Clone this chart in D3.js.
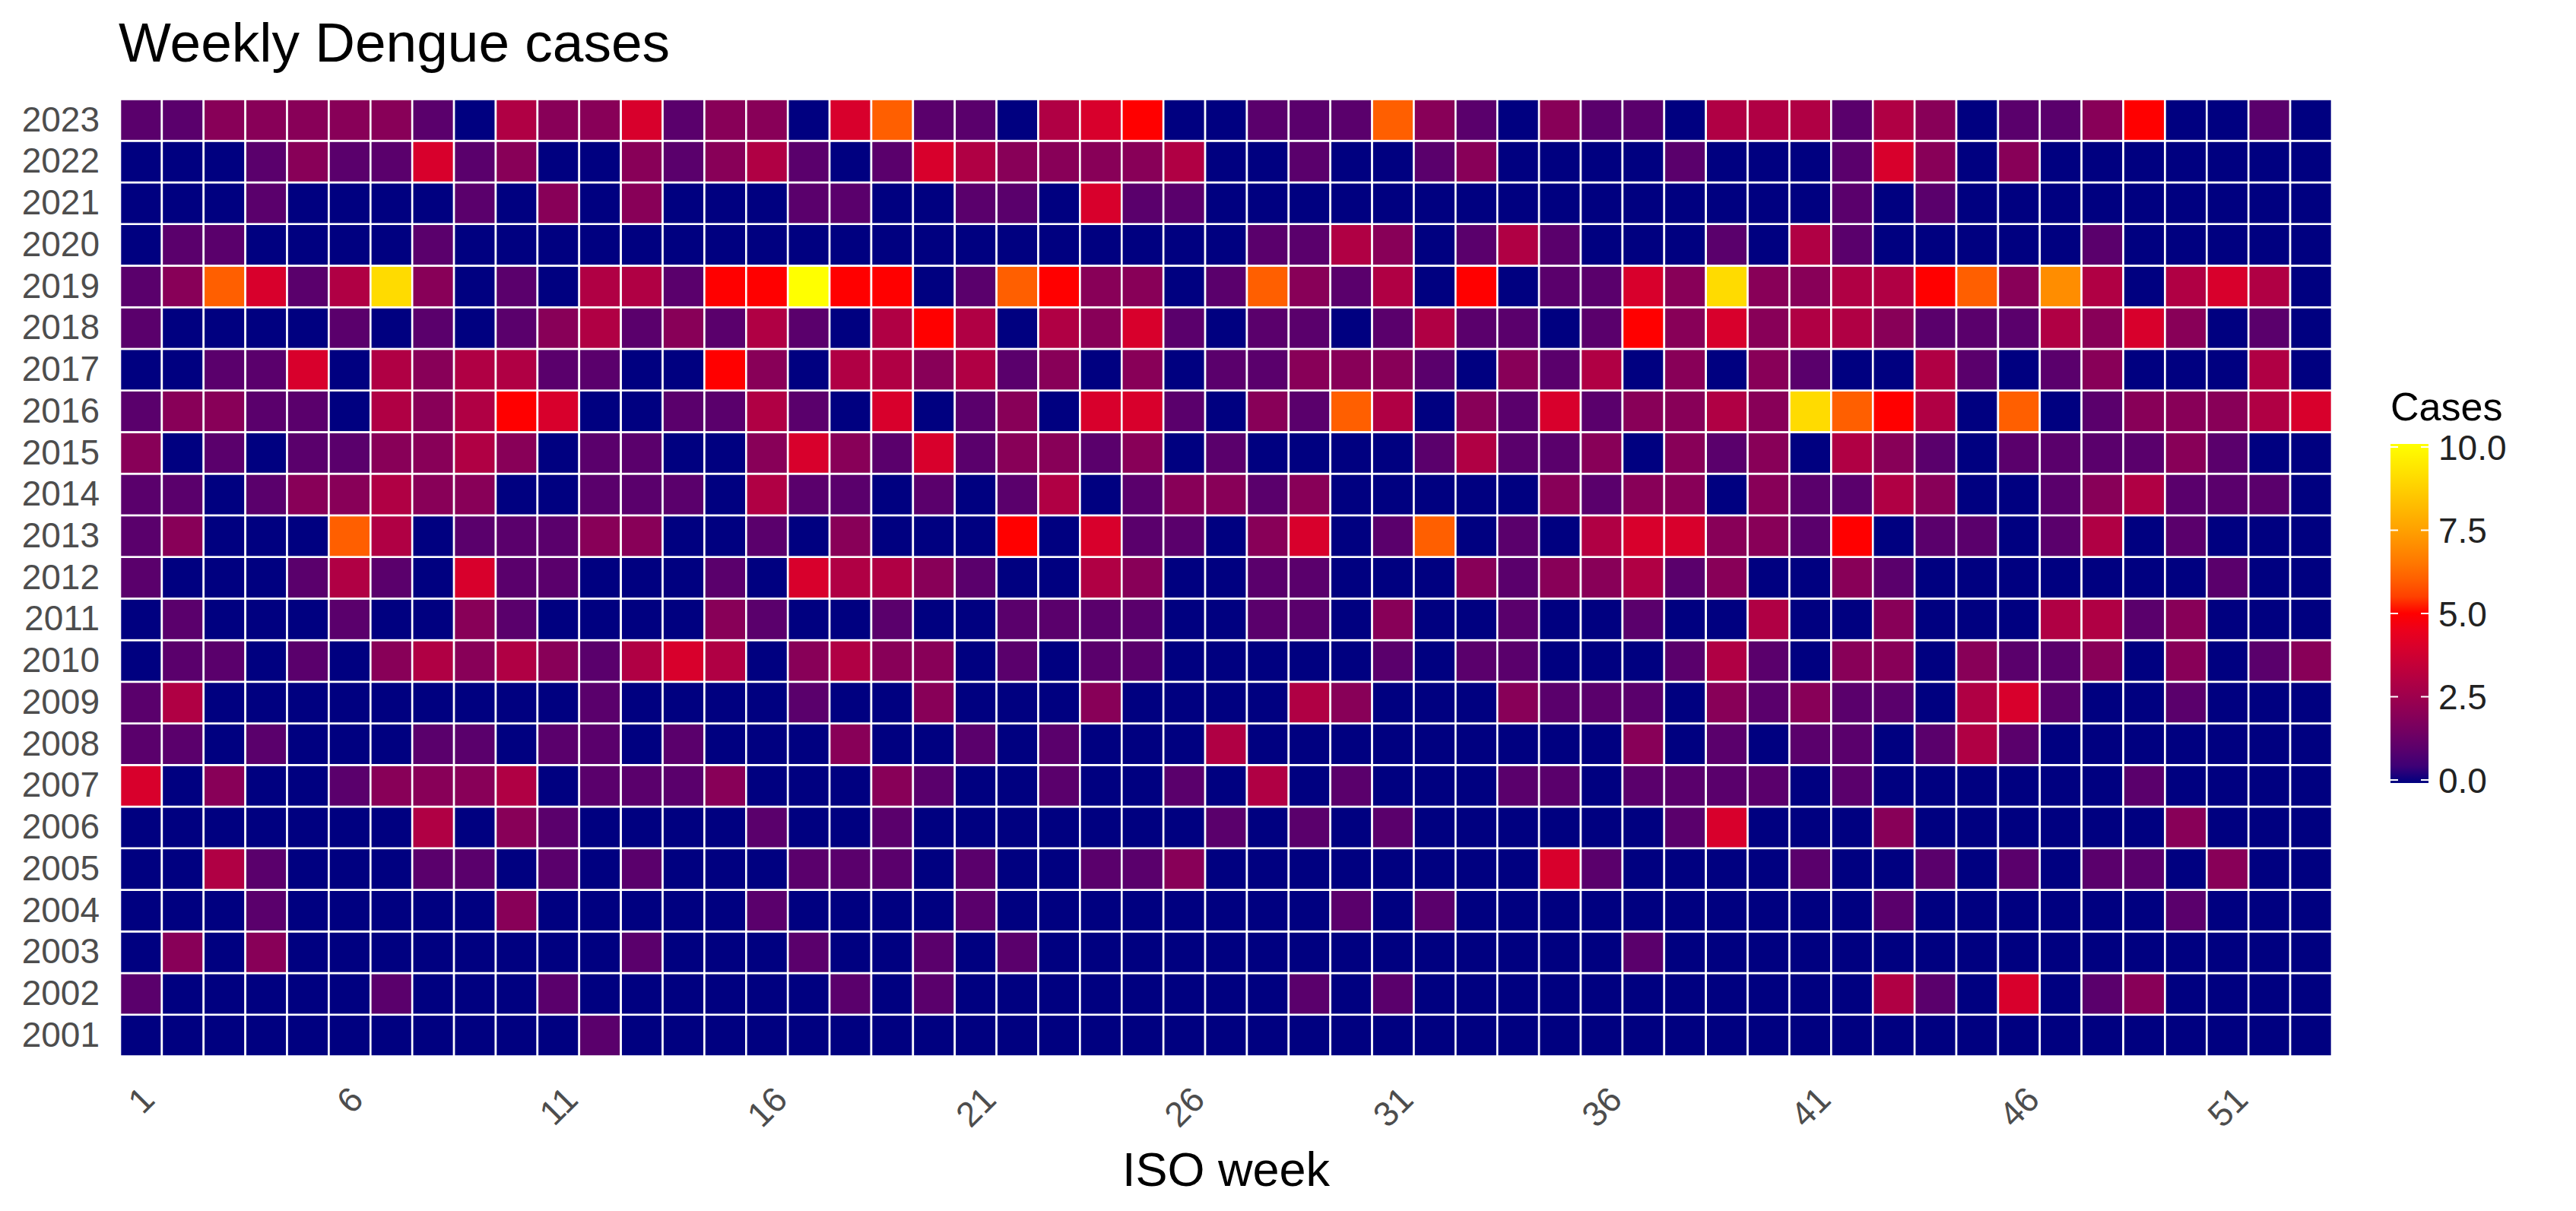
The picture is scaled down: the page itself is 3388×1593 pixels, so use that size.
<!DOCTYPE html>
<html>
<head>
<meta charset="utf-8">
<script src="https://cdn.jsdelivr.net/npm/d3@7"></script>
<style>
  body { margin: 0; background: #fff; }
  svg { display: block; font-family: "Liberation Sans", Arial, sans-serif; }
</style>
</head>
<body>
<svg id="chart"></svg>
<script>
"use strict";

const w = 3388;
const h = 1593;

// categories
const years = [2001, 2002, 2003, 2004, 2005, 2006, 2007, 2008, 2009, 2010, 2011, 2012,
  2013, 2014, 2015, 2016, 2017, 2018, 2019, 2020, 2021, 2022, 2023];
const weeks = [1, 2, 3, 4, 5, 6, 7, 8, 9, 10, 11, 12, 13, 14, 15, 16, 17, 18, 19, 20,
  21, 22, 23, 24, 25, 26, 27, 28, 29, 30, 31, 32, 33, 34, 35, 36, 37, 38, 39, 40,
  41, 42, 43, 44, 45, 46, 47, 48, 49, 50, 51, 52, 53];
const weekTicks = [1, 6, 11, 16, 21, 26, 31, 36, 41, 46, 51];
const legendTicks = [0, 2.5, 5, 7.5, 10];

// weekly cases, week 1..53, one array per year
const cases2023 = [1,1,2,2,2,2,2,1,0,3,2,2,4,1,2,2,0,4, 6,1,1,0,3,4,5,0,0,1,1,1,6,2,1,0,2,1, 1,0,3,3,3,1,3,2,0,1,1,2,5,0,0,1,0];
const cases2022 = [0,0,0,1,2,1,1,4,1,2,0,0,2,1,2,3,1,0, 1,4,3,2,2,2,2,3,0,0,1,0,0,1,2,0,0,0, 0,1,0,0,0,1,4,2,0,2,0,0,0,0,0,0,0];
const cases2021 = [0,0,0,1,0,0,0,0,1,0,2,0,2,0,0,0,1,1, 0,0,1,1,0,4,1,1,0,0,0,0,0,0,0,0,0,0, 0,0,0,0,0,1,0,1,0,0,0,0,0,0,0,0,0];
const cases2020 = [0,1,1,0,0,0,0,1,0,0,0,0,0,0,0,0,0,0, 0,0,0,0,0,0,0,0,0,1,1,3,2,0,1,3,1,0, 0,0,1,0,3,1,0,0,0,0,0,1,0,0,0,0,0];
const cases2019 = [1,2,6,4,1,3,9,2,0,1,0,3,3,1,5,5,10,5, 5,0,1,6,5,2,2,0,1,6,2,1,3,0,5,0,1,1, 4,2,9,2,2,3,3,5,6,2,7,3,0,3,4,3,0];
const cases2018 = [1,0,0,0,0,1,0,1,0,1,2,3,1,2,1,3,1,0, 3,5,3,0,3,2,4,1,0,1,1,0,1,3,1,1,0,1, 5,2,4,2,3,3,2,1,1,1,3,2,4,2,0,1,0];
const cases2017 = [0,0,1,1,4,0,3,2,3,3,1,1,0,0,5,2,0,3, 3,2,3,1,2,0,2,0,1,1,2,2,2,1,0,2,1,3, 0,2,0,2,1,0,0,3,1,0,1,2,0,0,0,3,0];
const cases2016 = [1,2,2,1,1,0,3,2,3,5,4,0,0,1,1,3,1,0, 4,0,1,2,0,4,4,1,0,2,1,6,3,0,2,1,4,1, 2,2,3,2,9,6,5,3,0,6,0,1,2,2,2,3,4];
const cases2015 = [2,0,1,0,1,1,2,2,3,2,0,1,1,0,0,2,4,2, 1,4,1,2,2,1,2,0,1,0,0,0,0,1,3,1,1,2, 0,2,1,2,0,3,2,1,0,1,1,1,1,2,1,0,0];
const cases2014 = [1,1,0,1,2,2,3,2,2,0,0,1,1,1,0,3,1,1, 0,1,0,1,3,0,1,2,2,1,2,0,0,0,0,0,2,1, 2,2,0,2,1,1,3,2,0,0,1,2,3,1,1,1,0];
const cases2013 = [1,2,0,0,0,6,3,0,1,1,1,2,2,0,0,1,0,2, 0,0,0,5,0,4,1,1,0,2,4,0,1,6,0,1,0,3, 4,4,2,2,1,5,0,1,1,0,1,3,0,1,0,0,0];
const cases2012 = [1,0,0,0,1,3,1,0,4,1,1,0,0,0,1,0,4,3, 3,2,1,0,0,3,2,0,0,1,1,0,0,0,2,1,2,2, 3,1,2,0,0,2,1,0,0,0,0,0,0,0,1,0,0];
const cases2011 = [0,1,0,0,0,1,0,0,2,1,0,0,0,0,2,1,0,0, 1,0,0,1,1,1,1,0,0,1,1,0,2,0,0,1,0,0, 1,0,0,3,0,0,2,0,0,0,3,3,1,2,0,0,0];
const cases2010 = [0,1,1,0,1,0,2,3,2,3,2,1,3,4,3,0,2,3, 2,2,0,1,0,1,1,0,0,0,0,0,1,0,1,1,0,0, 0,1,3,1,0,2,2,0,2,1,1,2,0,2,0,1,2];
const cases2009 = [1,3,0,0,0,0,0,0,0,0,0,1,0,0,0,0,1,0, 0,2,0,0,0,2,0,0,0,0,3,2,0,0,0,2,1,1, 1,0,2,1,2,1,1,0,3,4,1,0,0,1,0,0,0];
const cases2008 = [1,1,0,1,0,0,0,1,1,0,1,1,0,1,0,0,0,2, 0,0,1,0,1,0,0,0,3,0,0,0,0,0,0,0,0,0, 2,0,1,0,1,1,0,1,3,1,0,0,0,0,0,0,0];
const cases2007 = [4,0,2,0,0,1,2,2,2,3,0,1,1,1,2,0,0,0, 2,1,0,0,1,0,0,1,0,3,0,1,0,0,0,1,1,0, 1,1,1,1,0,1,0,0,0,0,0,0,1,0,0,0,0];
const cases2006 = [0,0,0,0,0,0,0,3,0,2,1,0,0,0,0,1,0,0, 1,0,0,0,0,0,0,0,1,0,1,0,1,0,0,0,0,0, 0,1,4,0,0,0,2,0,0,0,0,0,0,2,0,0,0];
const cases2005 = [0,0,3,1,0,0,0,1,1,0,1,0,1,0,0,0,1,1, 1,0,1,0,0,1,1,2,0,0,0,0,0,0,0,0,4,1, 0,0,0,0,1,0,0,1,0,1,0,1,1,0,2,0,0];
const cases2004 = [0,0,0,1,0,0,0,0,0,2,0,0,0,0,0,1,0,0, 0,0,1,0,0,0,0,0,0,0,0,1,0,1,0,0,0,0, 0,0,0,0,0,0,1,0,0,0,0,0,0,1,0,0,0];
const cases2003 = [0,2,0,2,0,0,0,0,0,0,0,0,1,0,0,0,1,0, 0,1,0,1,0,0,0,0,0,0,0,0,0,0,0,0,0,0, 1,0,0,0,0,0,0,0,0,0,0,0,0,0,0,0,0];
const cases2002 = [1,0,0,0,0,0,1,0,0,0,1,0,0,0,0,0,0,1, 0,1,0,0,0,0,0,0,0,0,1,0,1,0,0,0,0,0, 0,0,0,0,0,0,3,1,0,4,0,1,2,0,0,0,0];
const cases2001 = [0,0,0,0,0,0,0,0,0,0,0,1,0,0,0,0,0,0, 0,0,0,0,0,0,0,0,0,0,0,0,0,0,0,0,0,0, 0,0,0,0,0,0,0,0,0,0,0,0,0,0,0,0,0];

const casesByYear = [cases2001, cases2002, cases2003, cases2004, cases2005, cases2006,
  cases2007, cases2008, cases2009, cases2010, cases2011, cases2012, cases2013, cases2014,
  cases2015, cases2016, cases2017, cases2018, cases2019, cases2020, cases2021, cases2022, cases2023];

const cells = years.flatMap((yr, i) =>
  casesByYear[i].map((v, j) => ({ year: yr, week: weeks[j], value: v })));

//Layout
const plotLeft = 158, plotRight = 3067, plotTop = 130.5, plotBottom = 1389.5;
const tickFont = 46;

const svg = d3.select("#chart").attr("width", w).attr("height", h);
svg.append("rect").attr("width", w).attr("height", h).attr("fill", "#fff");

const x = d3.scaleBand().domain(weeks).range([plotLeft, plotRight]);
const y = d3.scaleBand().domain(years.slice().reverse()).range([plotTop, plotBottom]);
const color = d3.scaleLinear()
  .domain([0, 5, 10])
  .range(["navy", "red", "yellow"])
  .interpolate(d3.interpolateLab)
  .clamp(true);

//Tiles
svg.append("g")
  .selectAll("rect")
  .data(cells)
  .enter()
  .append("rect")
  .attr("x", (d) => x(d.week))
  .attr("y", (d) => y(d.year))
  .attr("width", x.bandwidth())
  .attr("height", y.bandwidth())
  .attr("fill", (d) => color(d.value))
  .attr("stroke", "#fff")
  .attr("stroke-width", 2.6);

//Axes
const yAxisG = svg.append("g")
  .attr("transform", `translate(${plotLeft}, 0)`)
  .call(d3.axisLeft(y).tickSize(0).tickPadding(27));
yAxisG.select(".domain").remove();
yAxisG.attr("font-family", null).attr("font-size", null);
yAxisG.selectAll("text").attr("font-size", tickFont).attr("fill", "#4d4d4d");

const xAxisG = svg.append("g")
  .attr("transform", `translate(0, ${plotBottom})`)
  .call(d3.axisBottom(x).tickValues(weekTicks).tickSize(0));
xAxisG.select(".domain").remove();
xAxisG.attr("font-family", null).attr("font-size", null);
xAxisG.selectAll("text")
  .attr("font-size", tickFont)
  .attr("fill", "#4d4d4d")
  .attr("text-anchor", "middle")
  .attr("dy", null)
  .attr("dominant-baseline", "central")
  .each(function () {
    const len = this.getComputedTextLength();
    const off = 1428 - plotBottom + (len + 0.6 * tickFont) / (2 * Math.SQRT2);
    d3.select(this).attr("y", off).attr("transform", `rotate(-45, 0, ${off})`);
  });

//Titles
svg.append("text")
  .attr("x", 156)
  .attr("y", 81)
  .attr("font-size", 73)
  .attr("fill", "#000")
  .text("Weekly Dengue cases");

svg.append("text")
  .attr("x", (plotLeft + plotRight) / 2)
  .attr("y", 1560)
  .attr("text-anchor", "middle")
  .attr("font-size", 63)
  .attr("fill", "#000")
  .text("ISO week");

//Legend
const legend = svg.append("g");
const lScale = d3.scaleLinear().domain([0, 10]).range([1026, 588]);
const grad = svg.append("defs").append("linearGradient")
  .attr("id", "casesGrad")
  .attr("x1", 0).attr("y1", 1).attr("x2", 0).attr("y2", 0);
grad.selectAll("stop")
  .data(d3.range(0, 10.01, 0.5))
  .enter()
  .append("stop")
  .attr("offset", (d) => d / 10)
  .attr("stop-color", (d) => color(d));

legend.append("text")
  .attr("x", 3144)
  .attr("y", 553)
  .attr("font-size", 52)
  .attr("fill", "#000")
  .text("Cases");

legend.append("rect")
  .attr("x", 3144)
  .attr("y", lScale(10) - 4)
  .attr("width", 50)
  .attr("height", lScale(0) - lScale(10) + 8)
  .attr("fill", "url(#casesGrad)");

legend.selectAll(".tick-l")
  .data(legendTicks)
  .enter()
  .append("line")
  .attr("x1", 3144).attr("x2", 3154)
  .attr("y1", (d) => lScale(d)).attr("y2", (d) => lScale(d))
  .attr("stroke", "#fff").attr("stroke-width", 2);
legend.selectAll(".tick-r")
  .data(legendTicks)
  .enter()
  .append("line")
  .attr("x1", 3184).attr("x2", 3194)
  .attr("y1", (d) => lScale(d)).attr("y2", (d) => lScale(d))
  .attr("stroke", "#fff").attr("stroke-width", 2);

legend.selectAll(".lbl")
  .data(legendTicks)
  .enter()
  .append("text")
  .attr("x", 3207)
  .attr("y", (d) => lScale(d))
  .attr("dy", "0.36em")
  .attr("font-size", tickFont)
  .attr("fill", "#222")
  .text((d) => d3.format(".1f")(d));
</script>
</body>
</html>
